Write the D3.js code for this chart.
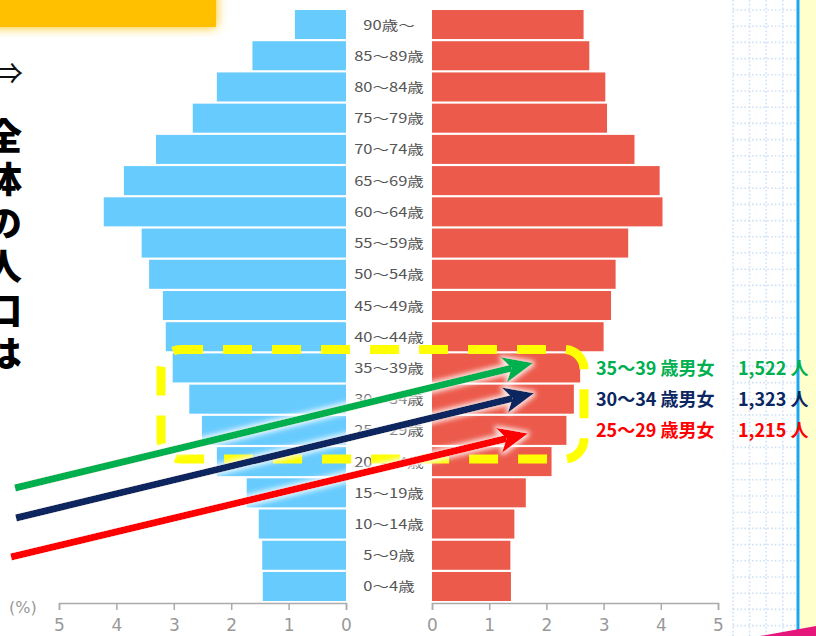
<!DOCTYPE html>
<html>
<head>
<meta charset="utf-8">
<script src="https://cdn.jsdelivr.net/npm/d3@7"></script>
<style>
  body { margin: 0; background: #fff; }
  svg { display: block; font-family: "Noto Sans CJK JP", "Noto Sans", sans-serif; }
</style>
</head>
<body>
<svg id="chart" width="816" height="636"></svg>
<script>
// age groups, top to bottom
const ages = ['90歳～', '85～89歳', '80～84歳', '75～79歳', '70～74歳', '65～69歳',
  '60～64歳', '55～59歳', '50～54歳', '45～49歳', '40～44歳', '35～39歳',
  '30～34歳', '25～29歳', '20～24歳', '15～19歳', '10～14歳', '5～9歳', '0～4歳'];

// share of total population (%)
const male = [0.89, 1.63, 2.25, 2.67, 3.31, 3.87, 4.22, 3.56, 3.43, 3.19, 3.14,
  3.02, 2.73, 2.51, 2.25, 1.73, 1.52, 1.46, 1.45];
const female = [2.65, 2.75, 3.03, 3.06, 3.54, 3.98, 4.03, 3.43, 3.21, 3.13, 3.00,
  2.59, 2.48, 2.35, 2.09, 1.64, 1.44, 1.37, 1.38];

const ticks = [0, 1, 2, 3, 4, 5];

// highlighted groups
const callouts = [
  { age: '35～39歳', label: '35～39 歳男女', count: '1,522 人', color: '#00B050' },
  { age: '30～34歳', label: '30～34 歳男女', count: '1,323 人', color: '#0B2660' },
  { age: '25～29歳', label: '25～29 歳男女', count: '1,215 人', color: '#FF0000' }
];

const svg = d3.select('#chart');

const y = d3.scaleBand().domain(ages).range([10, 601]).paddingInner(0.07);
const xL = d3.scaleLinear().domain([0, 5]).range([346, 59]);
const xR = d3.scaleLinear().domain([0, 5]).range([432, 718]);

// --- page decorations around the chart ---
const defs = svg.append('defs');
const glow = defs.append('filter').attr('id', 'glow')
  .attr('x', '-20%').attr('y', '-20%').attr('width', '140%').attr('height', '140%');
glow.append('feGaussianBlur').attr('stdDeviation', 6).attr('result', 'b');
const gm = glow.append('feMerge');
gm.append('feMergeNode').attr('in', 'b');
gm.append('feMergeNode').attr('in', 'SourceGraphic');

const halo = defs.append('filter').attr('id', 'halo')
  .attr('x', '-10%').attr('y', '-30%').attr('width', '120%').attr('height', '160%');
halo.append('feMorphology').attr('in', 'SourceAlpha').attr('operator', 'dilate').attr('radius', 1.5).attr('result', 'd');
halo.append('feGaussianBlur').attr('in', 'd').attr('stdDeviation', 2.5).attr('result', 'db');
halo.append('feFlood').attr('flood-color', '#fff').attr('flood-opacity', 0.85);
halo.append('feComposite').attr('in2', 'db').attr('operator', 'in').attr('result', 'w');
const hm = halo.append('feMerge');
hm.append('feMergeNode').attr('in', 'w');
hm.append('feMergeNode').attr('in', 'SourceGraphic');

// orange title box (cut off at the top)
svg.append('rect').attr('x', -20).attr('y', -20).attr('width', 236).attr('height', 47)
  .attr('fill', '#FFC000').attr('filter', 'url(#glow)');

// grid paper on the right
const grid = svg.append('g').attr('stroke', '#CFE2F3').attr('stroke-width', 1.6)
  .attr('stroke-dasharray', '1.6,2.2');
d3.range(733, 797, 16.6).forEach(gx => {
  grid.append('line').attr('x1', gx).attr('x2', gx).attr('y1', 0).attr('y2', 636);
});
d3.range(10, 636, 16.2).forEach(gy => {
  grid.append('line').attr('x1', 733).attr('x2', 796).attr('y1', gy).attr('y2', gy);
});
svg.append('rect').attr('x', 800).attr('y', 0).attr('width', 16).attr('height', 636).attr('fill', '#FFFFCC');
svg.append('line').attr('x1', 798).attr('x2', 798).attr('y1', 0).attr('y2', 636)
  .attr('stroke', '#1AA7EC').attr('stroke-width', 3);
svg.append('path').attr('d', 'M760,636 L816,626 L816,636 Z').attr('fill', '#E5177B');

// left side text
svg.append('text').attr('x', 23).attr('y', 84).attr('text-anchor', 'end')
  .attr('font-size', 30).attr('fill', '#111').text('⇒');
svg.append('text')
  .attr('x', 4).attr('y', 118)
  .style('writing-mode', 'vertical-rl')
  .attr('letter-spacing', 7.5)
  .attr('font-size', 36).attr('font-weight', 900)
  .attr('fill', '#000').text('全体の人口は');

// --- pyramid bars ---
svg.append('g').selectAll('rect').data(ages).join('rect')
  .attr('x', (d, i) => xL(male[i]))
  .attr('y', d => y(d))
  .attr('width', (d, i) => xL(0) - xL(male[i]))
  .attr('height', y.bandwidth())
  .attr('fill', '#68CBFE');

svg.append('g').selectAll('rect').data(ages).join('rect')
  .attr('x', xR(0))
  .attr('y', d => y(d))
  .attr('width', (d, i) => xR(female[i]) - xR(0))
  .attr('height', y.bandwidth())
  .attr('fill', '#EC5A4B');

// age labels
svg.append('g').selectAll('text').data(ages).join('text')
  .attr('transform', d => `translate(389,${y(d) + y.bandwidth() / 2 + 5}) scale(1.27,1)`)
  .attr('text-anchor', 'middle')
  .attr('font-size', 13)
  .attr('fill', '#555')
  .text(d => d);

// axes
const axisY = 603;
const styleAxis = g => {
  g.selectAll('path, line').attr('stroke', '#aaa').attr('stroke-width', 1.5);
  g.selectAll('text').attr('fill', '#999').attr('font-size', 17)
    .attr('font-family', '"DejaVu Sans", sans-serif');
};
svg.append('g').attr('transform', `translate(0,${axisY})`)
  .call(d3.axisBottom(xL).tickValues(ticks).tickFormat(d3.format('d')).tickSize(7).tickPadding(9))
  .call(styleAxis);
svg.append('g').attr('transform', `translate(0,${axisY})`)
  .call(d3.axisBottom(xR).tickValues(ticks).tickFormat(d3.format('d')).tickSize(7).tickPadding(9))
  .call(styleAxis);
svg.append('text').attr('x', 9).attr('y', 613).attr('font-size', 16)
  .attr('fill', '#999').attr('font-family', '"DejaVu Sans", sans-serif').text('(%)');

// yellow dashed frame around 25-39
const fTop = y('35～39歳') - 4;
const fBot = y('20～24歳') + 12;
svg.append('rect')
  .attr('x', 161).attr('y', fTop).attr('width', 423).attr('height', fBot - fTop)
  .attr('rx', 20).attr('ry', 20)
  .attr('fill', 'none').attr('stroke', '#FFFF00').attr('stroke-width', 9)
  .attr('stroke-dasharray', '29,20').attr('stroke-dashoffset', 7);

// arrows
const starts = [[15, 488], [16, 518], [11, 557]];
const tipDy = [-5, -6, 3];
const tipX = [533, 534, 528];
const arrows = svg.append('g').attr('filter', 'url(#halo)');
callouts.forEach((c, i) => {
  const [sx, sy] = starts[i];
  const tx = tipX[i];
  const ty = y(c.age) + y.bandwidth() / 2 + tipDy[i];
  const ang = Math.atan2(ty - sy, tx - sx);
  const ux = Math.cos(ang), uy = Math.sin(ang);
  const px = -uy, py = ux;
  const L = 30, W = 13, notch = 8;
  const bx = tx - ux * L, by = ty - uy * L;
  arrows.append('line')
    .attr('x1', sx).attr('y1', sy)
    .attr('x2', bx + ux * notch).attr('y2', by + uy * notch)
    .attr('stroke', c.color).attr('stroke-width', 7);
  arrows.append('path')
    .attr('d', `M${tx},${ty} L${bx + px * W},${by + py * W} L${bx + ux * notch},${by + uy * notch} L${bx - px * W},${by - py * W} Z`)
    .attr('fill', c.color);
});

// callout texts
const ct = svg.append('g').attr('font-size', 18).attr('font-weight', 700);
callouts.forEach(c => {
  const by = y(c.age) + y.bandwidth() / 2 + 7;
  ct.append('text').attr('x', 596).attr('y', by).attr('fill', c.color).text(c.label);
  ct.append('text').attr('x', 738).attr('y', by).attr('fill', c.color).text(c.count);
});
</script>
</body>
</html>
